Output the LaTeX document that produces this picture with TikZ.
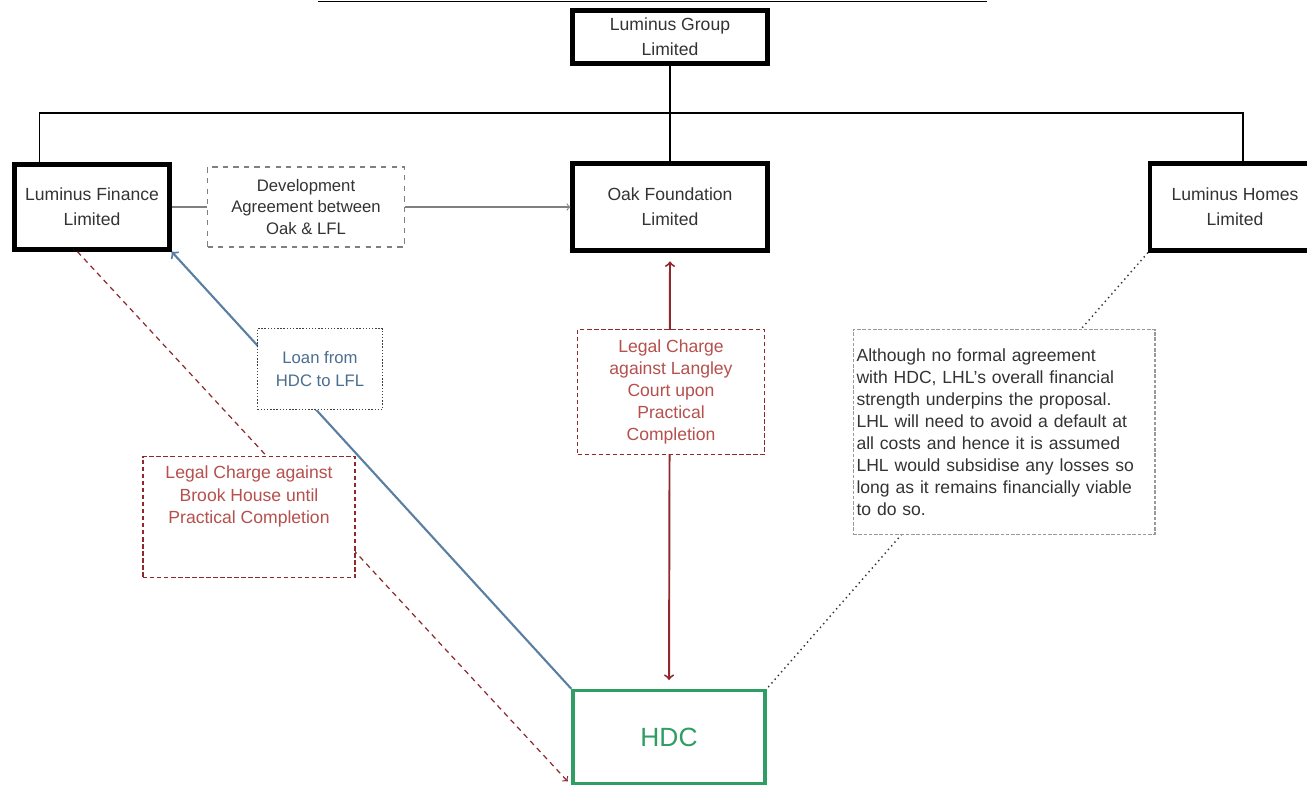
\documentclass[tikz,border=0pt]{standalone}
\usepackage{fontspec}
\setmainfont{Liberation Sans}
\usetikzlibrary{shapes,arrows,calc,positioning}

\definecolor{boxtext}{HTML}{333333}
\definecolor{chargered}{HTML}{8E2A2E}
\definecolor{chargetxt}{HTML}{B5504D}
\definecolor{loanblue}{HTML}{5A7FA0}
\definecolor{loantxt}{HTML}{4A6E8E}
\definecolor{hdcgreen}{HTML}{2E9E62}

\begin{document}
\begin{tikzpicture}[x=0.02cm,y=-0.02cm,
  company/.style={draw=black, line width=2.4pt, fill=white, text=boxtext, align=center, font=\fontsize{10}{14}\selectfont},
  hdcbox/.style={draw=hdcgreen, line width=2pt, fill=white, text=hdcgreen, font=\fontsize{15}{18}\selectfont},
  orgline/.style={black, line width=0.9pt},
  agreeline/.style={gray, line width=0.6pt, >=to},
  devbox/.style={draw=gray, dashed, line width=0.6pt, fill=white, text=boxtext, align=center, font=\fontsize{9.5}{12.5}\selectfont},
  loanline/.style={loanblue, line width=1.2pt, >=to},
  loanbox/.style={draw=black!75, densely dotted, line width=0.8pt, fill=white, text=loantxt, align=center, font=\fontsize{9.5}{13}\selectfont},
  chargeline/.style={chargered, line width=1.1pt, >=to},
  brookline/.style={chargered, line width=0.7pt, dash pattern=on 3pt off 2.5pt, >=to},
  chargebox/.style={draw=chargered, dash pattern=on 2.5pt off 1.5pt, line width=0.8pt, fill=white, text=chargetxt, align=center, font=\fontsize{10}{12.5}\selectfont},
  lhlline/.style={black!80, dotted, line width=0.8pt},
  notebox/.style={draw=gray!80, dash pattern=on 2pt off 1pt, line width=0.6pt, fill=white, text=boxtext, align=left, font=\fontsize{10}{12.5}\selectfont}]

\useasboundingbox (0,0) rectangle (1307,785);
\draw[line width=0.8pt] (318,1.5) -- (987,1.5);

% group structure
\node[company, minimum width=3.9cm, minimum height=1.06cm] (lgl) at (670,37) {Luminus Group\\Limited};
\node[company, minimum width=3.1cm, minimum height=1.7cm] (lfl) at (92,207) {Luminus Finance\\Limited};
\node[company, minimum width=3.9cm, minimum height=1.74cm] (oak) at (670,207) {Oak Foundation\\Limited};
\node[company, minimum width=3.4cm, minimum height=1.74cm] (lhl) at (1235,207) {Luminus Homes\\Limited};
\node[hdcbox, minimum width=3.84cm, minimum height=1.86cm] (hdc) at (669,737) {HDC};

\coordinate (bus) at (670,113);
\draw[orgline] (lgl.south) -- (oak.north);
\draw[orgline] ($(lfl.north west)+(27,0)$) |- (bus) -| ($(lhl.north west)+(95,0)$);

% development agreement
\node[devbox, minimum width=3.94cm, minimum height=1.6cm] (dev) at (306,207) {Development\\Agreement between\\Oak \& LFL};
\draw[agreeline] (lfl.east) -- (dev.west);
\draw[agreeline,->] (dev.east) -- (oak.west);

% links to HDC
\draw[loanline,->] (hdc.north west) -- (lfl.south east);
\draw[chargeline,<->, shorten <=5pt, shorten >=5pt] (oak.south) -- (hdc.north);
\draw[brookline,->, shorten >=3pt] ($(lfl.south west)+(65,0)$) -- (hdc.south west);
\draw[lhlline] (lhl.south west) -- (hdc.north east);

% labels on the links
\node[loanbox, minimum width=2.5cm, minimum height=1.62cm] (loan) at (320,369) {Loan from\\HDC to LFL};
\node[chargebox, minimum width=3.74cm, minimum height=2.5cm] (langley) at (671,392) {Legal Charge\\against Langley\\Court upon\\Practical\\Completion};
\node[chargebox, minimum width=4.24cm, minimum height=2.42cm] (brook) at (249,517) {};
\node[text=chargetxt, align=center, font=\fontsize{10}{13}\selectfont, below=2pt of brook.north] (brooktxt) {Legal Charge against\\Brook House until\\Practical Completion};
\node[notebox, text width=5.9cm, inner xsep=0.07cm, minimum height=4.1cm] (note) at (1004,432) {Although no formal agreement\\with HDC, LHL's overall financial\\strength underpins the proposal.\\LHL will need to avoid a default at\\all costs and hence it is assumed\\LHL would subsidise any losses so\\long as it remains financially viable\\to do so.};
\end{tikzpicture}
\end{document}
